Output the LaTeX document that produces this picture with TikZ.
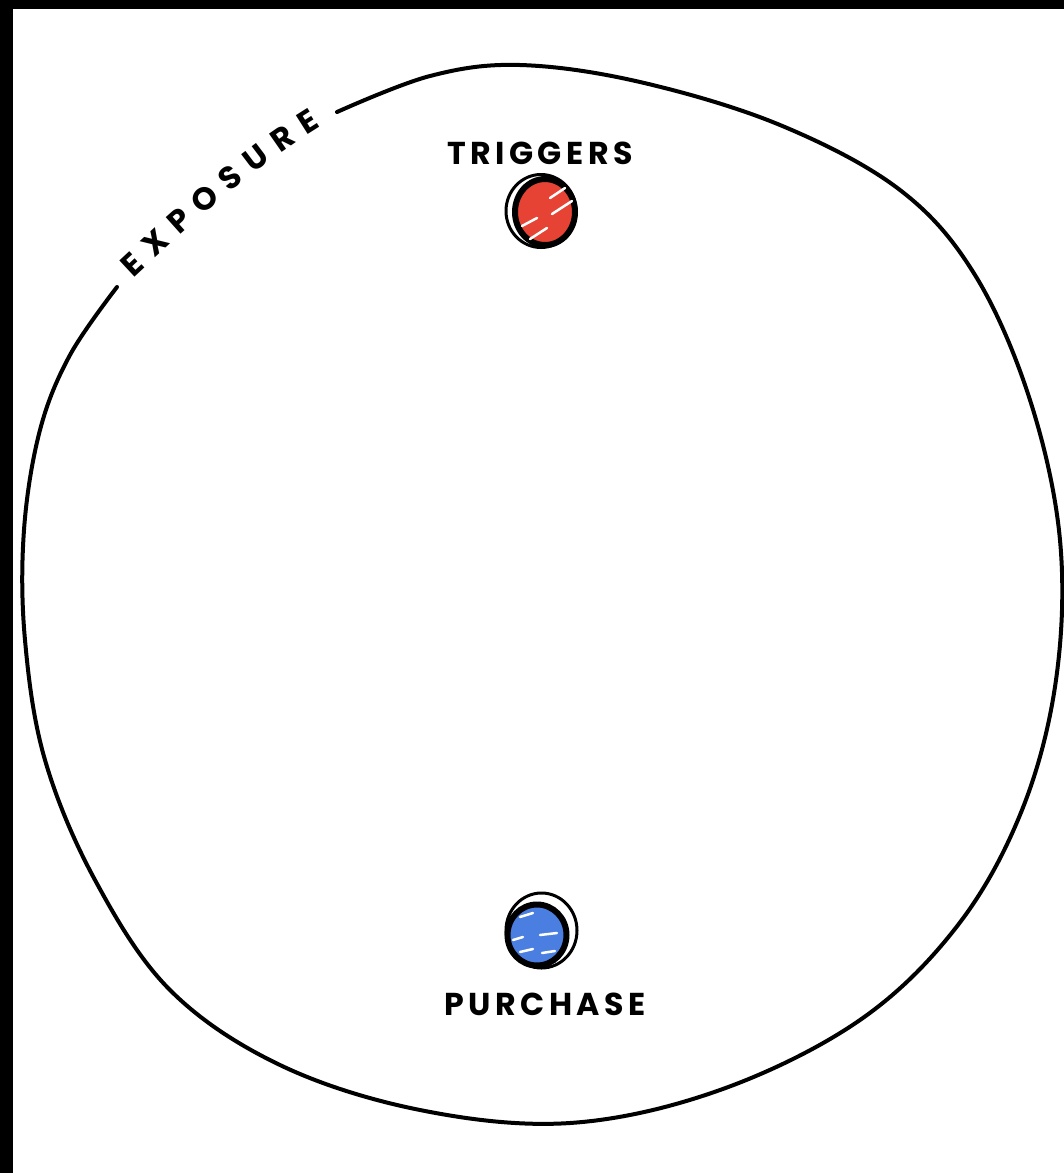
\documentclass[tikz,border=0pt]{standalone}
\usepackage{fontspec}
\usetikzlibrary{shapes,positioning,decorations.text}
\newfontfamily\handfont[LetterSpace=14]{Poppins}
\definecolor{marcarojo}{RGB}{231,67,52}
\definecolor{marcaazul}{RGB}{74,126,224}
\tikzset{
    contorno/.style={
        line width=0.4mm,         % trazo del contorno, como rotulador
        line cap=round,           % extremos redondeados
        line join=round
    },
    punto/.style={
        ellipse,                  % forma básica: elipse
        draw=black,               % borde negro grueso
        line width=0.6mm,
        fill=#1,                  % relleno con el color del punto
        inner sep=0pt,
        minimum width=6mm,
        minimum height=6.6mm
    },
    aro/.style={
        draw=black,
        line width=0.3mm          % segundo trazo, más fino, efecto a mano
    },
    brillo/.style={
        draw=white,
        line width=0.25mm,        % rayitas blancas dentro del punto
        line cap=round
    },
    etiqueta/.style={
        font=\handfont\bfseries\fontsize{9}{10}\selectfont,
        inner sep=0pt             % sin margen, el texto queda pegado
    }
}

\begin{document}
\begin{tikzpicture}[x=0.1mm,y=-0.1mm]
\fill[white] (0,0) rectangle (1064,1173);
\fill[black] (0,0) rectangle (13,1173);
\fill[black] (0,0) rectangle (1064,9);
\useasboundingbox (0,0) rectangle (1064,1173);

% contorno abierto
\draw[contorno] plot[smooth, tension=0.6] coordinates {
    (337,112) (430,76) (520,65) (640,82) (780,125) (900,190) (975,275)
    (1030,400) (1060,540) (1056,680) (1022,810) (958,925) (860,1020)
    (720,1090) (570,1123) (420,1110) (280,1065) (170,990) (95,880)
    (45,760) (25,640) (24,530) (40,430) (70,355) (117,287)};

% rotulo sobre el hueco
\path[decorate, decoration={text along path,
    text={|\handfont\bfseries\fontsize{9}{10}\selectfont|E X P O S U R E},
    text align=fit to path stretching spaces, raise=-1.1mm}]
    (126,270) .. controls (185,215) and (245,160) .. (315,117);

\node[punto=marcarojo] (trigger) at (545,212) {};
\draw[aro] ([xshift=-0.4mm,yshift=0.1mm]trigger.center) ellipse [x radius=3.5mm, y radius=3.65mm];
\foreach \a/\b/\c/\d in {0.5/1.4/1.5/1, 0.7/-0.2/2/1.3, -2.3/-1.4/1.5/0.8, -1.5/-2.7/1.7/1.1}
    \draw[brillo] ([shift={(\a mm,\b mm)}]trigger.center) -- ++(\c mm,\d mm);
\node[etiqueta, above=1.1mm of trigger, xshift=-0.5mm] (triggerlabel) {TRIGGERS};

\node[punto=marcaazul, minimum width=5.9mm, minimum height=6.1mm] (purchase) at (537,935) {};
\draw[aro] ([xshift=0.45mm,yshift=0.45mm]purchase.center) ellipse [x radius=3.55mm, y radius=3.75mm];
\foreach \a/\b/\c/\d in {-1.7/1.8/1.3/0.4, 0.3/0/1.7/0.2, -2.4/-0.5/1/0.3, -1.7/-1.7/1.3/0.3, 0.5/-1.8/1.3/0.2}
    \draw[brillo] ([shift={(\a mm,\b mm)}]purchase.center) -- ++(\c mm,\d mm);
\node[etiqueta, below=2.4mm of purchase, xshift=0.8mm] (purchaselabel) {PURCHASE};
\end{tikzpicture}
\end{document}
